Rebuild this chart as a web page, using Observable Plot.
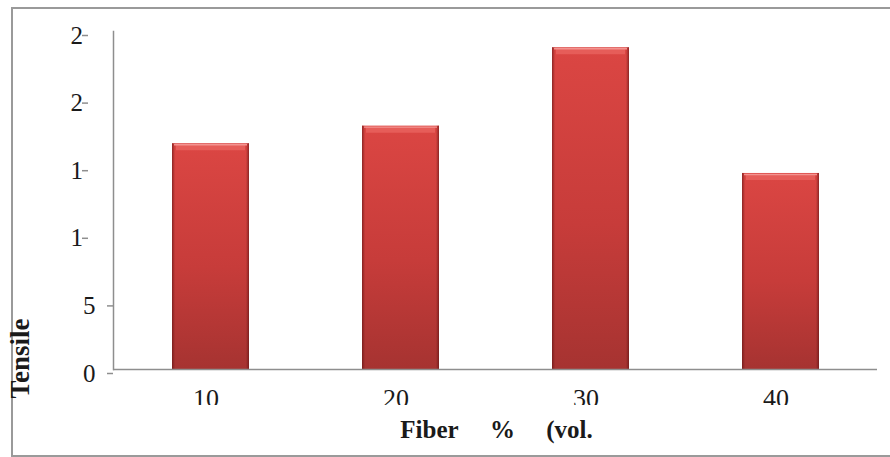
<!DOCTYPE html>
<html>
<head>
<meta charset="utf-8">
<script src="https://cdn.jsdelivr.net/npm/d3@7"></script>
<script src="https://cdn.jsdelivr.net/npm/@observablehq/plot@0.6"></script>
<style>
  html, body { margin: 0; padding: 0; background: #fff; }
  #chart { position: relative; width: 890px; height: 457px; overflow: hidden; }
  #chart .border {
    position: absolute; left: 11px; top: 7px; width: 900px; height: 446px;
    border: 2px solid #9a9a9a; border-right: none;
  }
  #chart svg { position: absolute; left: 0; top: 0; }
</style>
</head>
<body>
<div id="chart"><div class="border"></div></div>
<script>
// Fiber content (vol. %) and measured tensile strength
const categories = ["10", "20", "30", "40"];
const tensile = [16.7, 18.0, 23.8, 14.5];

// Y axis ticks and the labels printed beside them
const yTicks = [0, 5, 10, 15, 20, 25];
const yTickLabels = ["0", "5", "1", "1", "2", "2"];

// Axis titles
const xTitle = "Fiber\u00a0\u00a0\u00a0\u00a0\u00a0%\u00a0\u00a0\u00a0\u00a0\u00a0(vol.";
const yTitle = "Tensile";

const rows = categories.map((c, i) => ({fiber: c, value: tensile[i]}));
const axisGray = "#8e8e8e";
const yLabel = v => yTickLabels[yTicks.indexOf(v)];

const chart = Plot.plot({
  width: 890,
  height: 457,
  marginLeft: 113,
  marginRight: 13,
  marginTop: 31,
  marginBottom: 88,
  style: {
    background: "transparent",
    fontFamily: "'Liberation Serif', 'Times New Roman', serif",
    color: "#1a1a1a",
    overflow: "visible"
  },
  x: {domain: categories, paddingInner: 0.595, paddingOuter: 0.3, align: 0.5, axis: null},
  y: {domain: [0, 25], axis: null},
  marks: [
    // bar body, side shading, and bevelled top edge
    Plot.barY(rows, {x: "fiber", y: "value", fill: "url(#bar-fill)", ariaLabel: "bar-body"}),
    Plot.barY(rows, {x: "fiber", y: "value", fill: "url(#bar-edge)", ariaLabel: "bar-edge"}),
    Plot.tickY(rows, {x: "fiber", y: "value", stroke: "#e65d59", strokeWidth: 6, dy: 3.5, insetLeft: 4, insetRight: 4}),
    Plot.tickY(rows, {x: "fiber", y: "value", stroke: "#f39390", strokeWidth: 1.4, dy: 1, insetLeft: 2, insetRight: 2}),

    // axis lines
    Plot.frame({anchor: "left", stroke: axisGray, strokeWidth: 1.5}),
    Plot.ruleY([0], {stroke: axisGray, strokeWidth: 1.5}),

    // y ticks with labels: single-digit labels right-aligned,
    // two-digit labels sit in the same box and show their leading digit
    Plot.axisY(yTicks.filter(v => v < 10), {
      tickSize: 6, tickPadding: 12, tickFormat: yLabel, fontSize: 25, dy: 4,
      stroke: axisGray, strokeWidth: 1.5, label: null
    }),
    Plot.axisY(yTicks.filter(v => v >= 10), {
      tickSize: 6, tickPadding: 12, tickFormat: yLabel, fontSize: 25, dy: 4,
      textAnchor: "start", dx: -25, stroke: axisGray, strokeWidth: 1.5, label: null
    }),

    // x tick labels
    Plot.axisX({tickSize: 0, tickPadding: 19, fontSize: 26, dx: -5, label: null}),

    // axis titles
    Plot.text([yTitle], {text: d => d, frameAnchor: "bottom-left", textAnchor: "middle", lineAnchor: "middle",
      rotate: -90, dx: -93, dy: -11, fontSize: 27, fontWeight: "bold"}),
    Plot.text([xTitle], {text: d => d, frameAnchor: "bottom", textAnchor: "middle", lineAnchor: "middle",
      dx: 1, dy: 60, fontSize: 25, fontWeight: "bold"})
  ]
});

// gradients and shadow used by the bars
const svg = d3.select(chart);
const defs = svg.insert("defs", ":first-child");
const fill = defs.append("linearGradient").attr("id", "bar-fill")
  .attr("x1", 0).attr("y1", 0).attr("x2", 0).attr("y2", 1);
fill.append("stop").attr("offset", "0%").attr("stop-color", "#db4643");
fill.append("stop").attr("offset", "55%").attr("stop-color", "#c73c3a");
fill.append("stop").attr("offset", "100%").attr("stop-color", "#a63331");
const edge = defs.append("linearGradient").attr("id", "bar-edge")
  .attr("x1", 0).attr("y1", 0).attr("x2", 1).attr("y2", 0);
edge.append("stop").attr("offset", "0%").attr("stop-color", "#5a1010").attr("stop-opacity", 0.6);
edge.append("stop").attr("offset", "4%").attr("stop-color", "#5a1010").attr("stop-opacity", 0.0);
edge.append("stop").attr("offset", "96%").attr("stop-color", "#5a1010").attr("stop-opacity", 0.0);
edge.append("stop").attr("offset", "100%").attr("stop-color", "#5a1010").attr("stop-opacity", 0.6);
const shadow = defs.append("filter").attr("id", "bar-shadow")
  .attr("x", "-20%").attr("y", "-10%").attr("width", "140%").attr("height", "120%");
shadow.append("feDropShadow").attr("dx", 0.5).attr("dy", 1).attr("stdDeviation", 1.6)
  .attr("flood-color", "#000").attr("flood-opacity", 0.35);
svg.select("g[aria-label='bar-body']").attr("filter", "url(#bar-shadow)");

// x tick labels are cut off along their lower part
const clip = defs.append("clipPath").attr("id", "x-label-clip");
clip.append("rect").attr("x", 0).attr("y", 0).attr("width", 890).attr("height", 405);
const xLabelGroups = svg.selectAll("g")
  .filter(function() { return this.getAttribute("aria-label") === "x-axis tick label"; })
  .nodes();
if (xLabelGroups.length) {
  const wrap = svg.append("g").attr("clip-path", "url(#x-label-clip)");
  xLabelGroups.forEach(n => wrap.node().appendChild(n));
}

document.getElementById("chart").appendChild(chart);
</script>
</body>
</html>
